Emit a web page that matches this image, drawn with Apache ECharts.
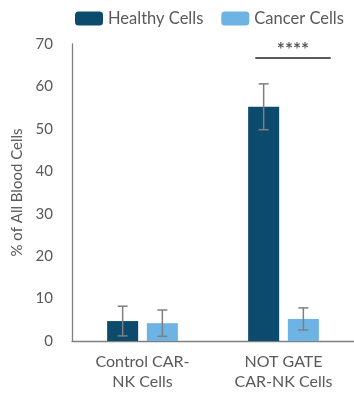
<!DOCTYPE html>
<html><head><meta charset="utf-8">
<script src="https://cdn.jsdelivr.net/npm/echarts@6/dist/echarts.min.js"></script>
<style>html,body{margin:0;padding:0;background:#fff}#c{width:354px;height:398px}</style>
</head><body><div id="c"></div>
<script>
const categories = ['Control CAR-\nNK Cells', 'NOT GATE\nCAR-NK Cells'];
const seriesNames = ['Healthy Cells', 'Cancer Cells'];
const healthy = [4.7, 55.2];
const cancer = [4.2, 5.2];
const healthyErr = [3.5, 5.4];
const cancerErr = [3.1, 2.6];
const yTicks = [0, 10, 20, 30, 40, 50, 60, 70];
const sigLabel = '****';
const sigCategory = 1;
const sigValue = 66.7;

const FONT = 'Lato, "Open Sans", sans-serif';
const GREY = '#595959';
const DARK = '#0c4a6e';
const LIGHT = '#6db3e4';

const chart = echarts.init(document.getElementById('c'));

function errSeries(vals, errs, idx) {
  return {
    type: 'custom',
    name: seriesNames[idx] + ' err',
    z: 10,
    renderItem: function (params, api) {
      const ci = api.value(0);
      const v = api.value(1), e = api.value(2);
      const band = api.size([1, 0])[0];
      const barW = band * 0.22, gap = barW * 0.28;
      const base = api.coord([ci, v]);
      const off = (idx === 0 ? -1 : 1) * (barW + gap) / 2;
      const x = base[0] + off;
      const yTop = api.coord([ci, v + e])[1];
      const yBot = api.coord([ci, v - e])[1];
      const cap = 5;
      const st = { stroke: '#7f7f7f', lineWidth: 1.5 };
      return { type: 'group', children: [
        { type: 'line', shape: { x1: x, y1: yTop, x2: x, y2: yBot }, style: st },
        { type: 'line', shape: { x1: x - cap, y1: yTop, x2: x + cap, y2: yTop }, style: st },
        { type: 'line', shape: { x1: x - cap, y1: yBot, x2: x + cap, y2: yBot }, style: st }
      ]};
    },
    data: vals.map((v, i) => [i, v, errs[i]]),
    tooltip: { show: false }
  };
}

chart.setOption({
  animation: false,
  textStyle: { fontFamily: FONT },
  legend: {
    data: seriesNames,
    top: 5, left: 70,
    itemWidth: 28, itemHeight: 14, itemGap: 18,
    textStyle: { fontSize: 16.5, color: GREY, fontFamily: FONT }
  },
  grid: { left: 72, top: 44, width: 288, height: 297, containLabel: false },
  xAxis: {
    type: 'category', data: categories,
    axisLine: { lineStyle: { color: '#7f7f7f', width: 1.3 } },
    axisTick: { show: false },
    axisLabel: { color: GREY, fontSize: 16, fontFamily: FONT, lineHeight: 20, margin: 11, interval: 0 }
  },
  yAxis: {
    type: 'value', min: 0, max: 70, interval: 10,
    name: '% of All Blood Cells', nameLocation: 'middle', nameGap: 41,
    nameTextStyle: { color: GREY, fontSize: 15, fontFamily: FONT },
    axisLine: { show: true, lineStyle: { color: '#7f7f7f', width: 1.3 } },
    axisTick: { show: false },
    splitLine: { show: false },
    axisLabel: { color: GREY, fontSize: 15, fontFamily: FONT, margin: 19,
      formatter: v => yTicks.includes(v) ? String(v) : '' }
  },
  series: [
    { type: 'bar', name: seriesNames[0], data: healthy, barWidth: '22%', barGap: '28%',
      itemStyle: { color: DARK } },
    { type: 'bar', name: seriesNames[1], data: cancer, barWidth: '22%', barGap: '28%',
      itemStyle: { color: LIGHT } },
    errSeries(healthy, healthyErr, 0),
    errSeries(cancer, cancerErr, 1),
    {
      type: 'custom', name: 'sig', z: 10,
      renderItem: function (params, api) {
        const ci = api.value(0), v = api.value(1);
        const band = api.size([1, 0])[0];
        const p = api.coord([ci, v]);
        const x1 = p[0] - band * 0.2, x2 = p[0] + band * 0.335;
        return { type: 'group', children: [
          { type: 'line', shape: { x1: x1, y1: p[1], x2: x2, y2: p[1] }, style: { stroke: '#595959', lineWidth: 2 } },
          { type: 'text', style: { text: sigLabel, x: (x1 + x2) / 2, y: p[1] + 1, align: 'center', verticalAlign: 'bottom',
            fill: GREY, font: 'bold 19px ' + FONT } }
        ]};
      },
      data: [[sigCategory, sigValue]]
    }
  ]
});
</script></body></html>
